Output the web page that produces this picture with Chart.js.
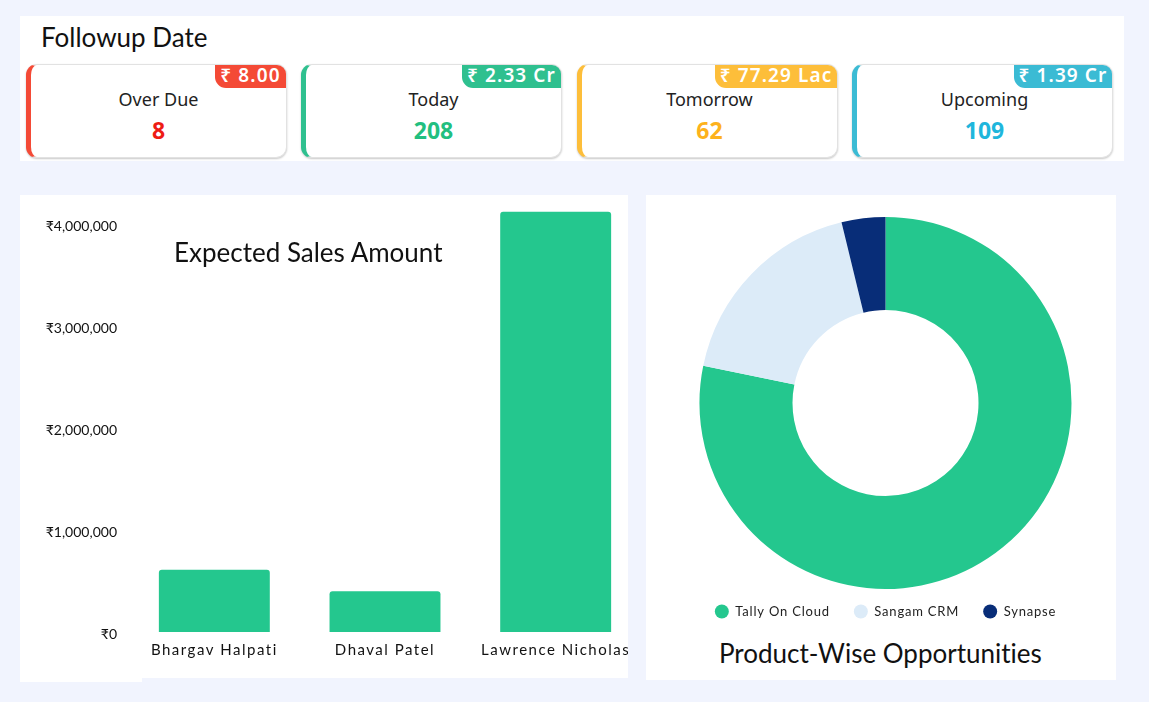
<!DOCTYPE html>
<html>
<head>
<meta charset="utf-8">
<script src="https://cdn.jsdelivr.net/npm/chart.js@4"></script>
<style>
html, body { margin: 0; padding: 0; }
body { width: 1149px; height: 702px; background: #f1f4fe; position: relative; overflow: hidden; font-family: Lato, sans-serif; }
.panel { position: absolute; background: #fff; }
.heading { position: absolute; color: #111; white-space: nowrap; font-family: Lato, sans-serif; font-variant-ligatures: none; }
.card { position: absolute; top: 64px; width: 261px; height: 94px; box-sizing: border-box; border-radius: 11px; background: #fff;
  border: 1px solid #e2e2e2; border-left-width: 5px; box-shadow: 0 1px 2px rgba(0,0,0,.22); font-family: "Noto Sans", sans-serif; }
.badge { position: absolute; top: 0; right: 0; height: 23px; line-height: 21px; color: #fff; font-size: 19px; font-weight: 600; letter-spacing: 1.1px;
  text-align: center; border-radius: 0 9px 0 11px; font-family: "Noto Sans", sans-serif; white-space: nowrap; }
.label { position: absolute; left: 0; right: 0; top: 22px; text-align: center; font-size: 18px; color: #222; line-height: 24px; }
.count { position: absolute; left: 0; right: 0; top: 51px; text-align: center; font-size: 23px; font-weight: 700; line-height: 28px; }
canvas { position: absolute; }
</style>
</head>
<body>
<div class="panel" style="left:20px;top:16px;width:1104px;height:145px"></div>
<div class="heading" style="left:41px;top:21px;font-size:26px;line-height:32px">Followup Date</div>
<div id="cards"></div>

<div class="panel" style="left:20px;top:660px;width:122px;height:22px"></div>
<div class="panel" style="left:20px;top:195px;width:608px;height:483px;overflow:hidden">
  <canvas id="barChart" width="621" height="483" style="left:0;top:0"></canvas>
</div>
<div class="heading" style="left:174px;top:236px;font-size:26px;line-height:32px">Expected Sales Amount</div>

<div class="panel" style="left:646px;top:195px;width:470px;height:485px">
  <canvas id="pieChart" width="461" height="441" style="left:9px;top:0"></canvas>
</div>
<div class="heading" style="left:719px;top:636px;font-size:26px;line-height:34px">Product-Wise Opportunities</div>

<script>
// cards
const cardNames = ['Over Due', 'Today', 'Tomorrow', 'Upcoming'];
const cardCounts = [8, 208, 62, 109];
const cardAmounts = ['₹ 8.00', '₹ 2.33 Cr', '₹ 77.29 Lac', '₹ 1.39 Cr'];
const cardColors = ['#f44a36', '#2fc08f', '#fdbe3a', '#3bbbd4'];
const countColors = ['#ee1c14', '#22bf80', '#fdb21c', '#1fb6dc'];
const cardLefts = [26, 301, 577, 852];
const badgeWidths = [71, 99, 122, 98];

// bar chart
const salesPeople = ['Bhargav Halpati', 'Dhaval Patel', 'Lawrence Nicholas'];
const salesAmounts = [610000, 400000, 4120000];
const amountTicks = [0, 1000000, 2000000, 3000000, 4000000];

// doughnut
const products = ['Tally On Cloud', 'Sangam CRM', 'Synapse'];
const productShares = [78.2, 18.0, 3.8];
const productColors = ['#24c78e', '#dcebf8', '#082d78'];

const green = '#24c78e';

const cards = document.getElementById('cards');
cardNames.forEach(function (name, i) {
    const card = document.createElement('div');
    card.className = 'card';
    card.style.left = cardLefts[i] + 'px';
    card.style.borderLeftColor = cardColors[i];
    card.innerHTML = '<div class="badge" style="background:' + cardColors[i] + ';width:' + badgeWidths[i] + 'px">' + cardAmounts[i] + '</div>' +
        '<div class="label">' + name + '</div>' +
        '<div class="count" style="color:' + countColors[i] + '">' + cardCounts[i] + '</div>';
    cards.appendChild(card);
});

const fmt = new Intl.NumberFormat('en-US');

new Chart(document.getElementById('barChart').getContext('2d'), {
    type: 'bar',
    data: {
        labels: salesPeople,
        datasets: [{
            data: salesAmounts,
            backgroundColor: green,
            borderRadius: { topLeft: 3, topRight: 3 },
            borderSkipped: 'bottom',
            barPercentage: 0.65,
            categoryPercentage: 1
        }]
    },
    options: {
        responsive: false,
        animation: false,
        layout: { padding: { top: 8.6 } },
        plugins: { legend: { display: false }, tooltip: { enabled: false }, title: { display: false } },
        scales: {
            x: {
                grid: { display: false, drawTicks: false },
                border: { display: false },
                ticks: { color: '#111', font: { family: 'Lato', size: 15 }, padding: 9, autoSkip: false, maxRotation: 0 },
                afterFit: function (scale) {
                    scale.height = 46;
                    scale.paddingLeft = 0;
                    scale.paddingRight = 0;
                }
            },
            y: {
                min: 0,
                max: 4200000,
                grid: { display: false, drawTicks: false },
                border: { display: false },
                ticks: {
                    color: '#111',
                    font: { family: 'Lato', size: 14 },
                    padding: 12,
                    labelOffset: 2,
                    callback: function (v) { return '₹' + fmt.format(v); }
                },
                afterBuildTicks: function (axis) {
                    axis.ticks = amountTicks.map(function (v) { return { value: v }; });
                },
                afterFit: function (scale) {
                    scale.width = 109;
                    scale.paddingTop = 0;
                    scale.paddingBottom = 0;
                }
            }
        }
    },
    plugins: [{
        // only the category labels are letter spaced
        id: 'spacedLabels',
        beforeDraw: function (chart) {
            const x = chart.scales.x;
            if (x.spaced) return;
            const drawLabels = x.drawLabels;
            x.drawLabels = function (area) {
                chart.ctx.letterSpacing = '1.5px';
                drawLabels.call(this, area);
                chart.ctx.letterSpacing = '0px';
            };
            x.spaced = true;
        }
    }]
});

new Chart(document.getElementById('pieChart').getContext('2d'), {
    type: 'doughnut',
    data: {
        labels: products,
        datasets: [{ data: productShares, backgroundColor: productColors, borderWidth: 0 }]
    },
    options: {
        responsive: false,
        animation: false,
        cutout: '50%',
        layout: { padding: { top: 22 } },
        plugins: {
            tooltip: { enabled: false },
            legend: {
                position: 'bottom',
                labels: {
                    usePointStyle: true,
                    pointStyle: 'circle',
                    pointStyleWidth: 14,
                    boxHeight: 10,
                    padding: 24,
                    color: '#222',
                    font: { family: 'Lato', size: 13 }
                }
            }
        }
    },
    plugins: [{
        id: 'spacedLegend',
        beforeLayout: function (chart) { chart.ctx.letterSpacing = '0.8px'; },
        // legend padding also sets the gaps between items, so pull the row back up
        afterLayout: function (chart) { chart.legend.top -= 8; }
    }]
});
</script>
</body>
</html>
